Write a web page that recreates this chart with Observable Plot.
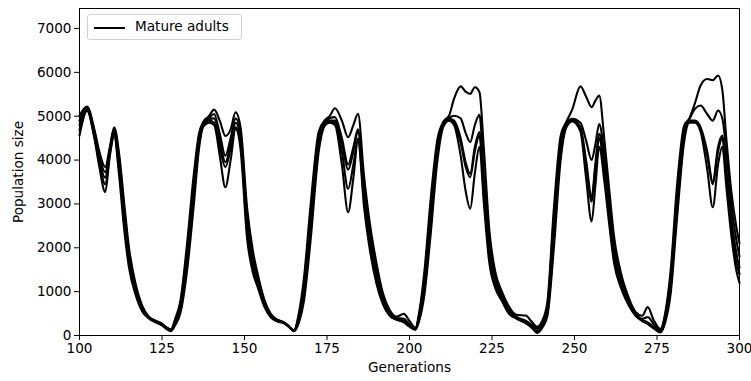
<!DOCTYPE html>
<html>
<head>
<meta charset="utf-8">
<script src="https://cdn.jsdelivr.net/npm/d3@7"></script>
<script src="https://cdn.jsdelivr.net/npm/@observablehq/plot@0.6"></script>
<style>
  html, body { margin: 0; padding: 0; background: #fff; }
  #wrap { position: relative; width: 751px; height: 381px; font-family: "DejaVu Sans", sans-serif; }
  #legend { position: absolute; left: 87px; top: 14px; width: 155px; height: 26px; box-sizing: border-box;
            border: 1px solid #d0d0d0; border-radius: 3px; background: rgba(255,255,255,0.85);
            font-size: 13.6px; color: #000; }
  #legend .swatch { position: absolute; left: 6px; top: 12px; width: 31px; height: 0; border-top: 2px solid #000; }
  #legend .lbl { position: absolute; left: 47px; top: 3px; white-space: nowrap; }
</style>
</head>
<body>
<div id="wrap">
  <div id="chart"></div>
  <div id="legend"><div class="swatch"></div><div class="lbl">Mature adults</div></div>
</div>
<script>
const generations = [
  100, 102.3, 104.5, 106, 107.8, 109.2, 110.5, 112, 113.5, 115, 117, 119, 121, 123, 125, 126.5, 127.7,
  129, 130.6, 132.6, 134.6, 136.2, 137.5,
  139.2, 140.8, 142.5, 144.2, 145.8, 147.3,
  148.8, 150.8, 152.5, 154, 156, 158, 160, 162, 163.5, 165,
  166.5, 168, 170, 172.5, 174.5,
  175.8, 177.4, 179.5, 181.4, 183, 184.4,
  186.2, 188, 190, 192, 194, 196, 198.3, 200, 201.8,
  203, 204.5, 206.4, 208.4, 210.3,
  212, 213.5, 215.5, 217, 218.4, 219.8, 221.2,
  222.5, 224.2, 226, 228, 230, 232.5, 235.2, 237, 238.7,
  240.2, 241.8, 243.7, 245.8, 247.5,
  249.3, 251.8, 253.5, 255.2, 256.3, 257.5,
  259, 260.5, 262, 264, 266, 268.5, 270.5, 272.2, 274, 276,
  277.5, 279.1, 281.1, 283.2, 284.8,
  286.5, 288.2, 290.2, 291.9, 293.5, 294.8,
  296, 297.5, 299, 300
];

const series1 = [
  5016, 5220, 4700, 4200, 3840, 4300, 4750, 4150, 3050, 2000, 1180, 680, 430, 340, 270, 180, 140,
  380, 800, 2100, 3650, 4600, 4870,
  5000, 5150, 4900, 4550, 4700, 5090,
  4750, 2900, 1950, 1400, 820, 490, 360, 300, 210, 120,
  520, 1300, 2950, 4650, 4920,
  5000, 5180, 4900, 4520, 4800, 5054,
  3650, 2550, 1650, 950, 580, 430, 494, 330, 180,
  560, 1450, 3100, 4450, 4880,
  5016, 5400, 5680, 5560, 5510, 5660, 5550,
  4300, 2400, 1450, 1000, 680, 470, 456, 320, 200,
  330, 780, 2850, 4550, 4870,
  5150, 5680, 5450, 5205, 5350, 5470,
  4500, 3350, 2250, 1450, 950, 540, 450, 646, 350, 150,
  520, 1450, 3450, 4780, 4950,
  5300, 5700, 5850, 5820, 5930, 5600,
  4500, 3300, 2500, 2100
];

const series2 = [
  4900, 5200, 4650, 4100, 3720, 4250, 4700, 4020, 2900, 1900, 1110, 640, 420, 330, 260, 170, 130,
  340, 720, 1950, 3480, 4520, 4840,
  4950, 5050, 4600, 4100, 4500, 4950,
  4620, 2720, 1820, 1320, 780, 470, 350, 295, 205, 115,
  460, 1160, 2750, 4550, 4890,
  4950, 4980, 4500, 3900, 4300, 4700,
  3480, 2400, 1520, 880, 540, 400, 380, 260, 160,
  500, 1310, 2900, 4330, 4850,
  4960, 5010, 4950, 4620, 4410, 4800, 5030,
  3700, 2150, 1350, 940, 610, 420, 340, 250, 170,
  290, 690, 2620, 4420, 4840,
  4940, 4850, 4450, 4000, 4350, 4820,
  4150, 3100, 2050, 1330, 880, 510, 380, 420, 260, 120,
  460, 1300, 3250, 4700, 4930,
  5170, 5244, 5050, 4900, 5130, 4950,
  4200, 3000, 2200, 1800
];

const series3 = [
  4800, 5180, 4600, 4000, 3600, 4200, 4650, 3900, 2750, 1780, 1050, 610, 410, 320, 250, 160, 120,
  300, 646, 1785, 3306, 4446, 4820,
  4940, 4950, 4450, 3950, 4350, 4850,
  4500, 2550, 1700, 1250, 740, 450, 340, 290, 200, 110,
  400, 1026, 2546, 4446, 4860,
  4900, 4900, 4400, 3780, 4200, 4650,
  3306, 2250, 1400, 820, 510, 380, 340, 240, 150,
  450, 1178, 2698, 4218, 4826,
  4940, 4900, 4500, 3950, 3690, 4300, 4640,
  3458, 1938, 1250, 880, 570, 400, 300, 230, 150,
  250, 600, 2400, 4300, 4800,
  4920, 4750, 4000, 3150, 3900, 4600,
  3950, 2900, 1900, 1250, 830, 480, 350, 300, 200, 110,
  400, 1178, 3078, 4600, 4900,
  4900, 4750, 4200, 3500, 4300, 4560,
  3800, 2700, 1900, 1550
];

const series4 = [
  4680, 5150, 4550, 3950, 3450, 4150, 4600, 3780, 2600, 1660, 990, 580, 400, 310, 240, 150, 110,
  270, 580, 1620, 3130, 4350, 4790,
  4900, 4850, 4300, 3840, 4250, 4750,
  4380, 2380, 1580, 1180, 700, 430, 330, 285, 195, 105,
  350, 900, 2350, 4330, 4830,
  4880, 4850, 4200, 3345, 3900, 4490,
  3130, 2100, 1290, 760, 480, 370, 320, 220, 140,
  400, 1050, 2500, 4100, 4800,
  4920, 4850, 4400, 3850, 3610, 4200, 4560,
  3250, 1780, 1160, 830, 540, 390, 290, 200, 100,
  210, 520, 2180, 4150, 4770,
  4900, 4700, 3900, 3050, 3800, 4500,
  3750, 2700, 1750, 1170, 790, 470, 340, 280, 180, 90,
  350, 1050, 2900, 4500, 4880,
  4880, 4700, 4100, 3450, 4200, 4500,
  3600, 2500, 1700, 1400
];

const series5 = [
  4560, 5120, 4500, 3850, 3270, 4100, 4550, 3650, 2450, 1550, 930, 550, 390, 300, 230, 140, 100,
  240, 520, 1480, 2950, 4250, 4760,
  4850, 4800, 4100, 3380, 4000, 4710,
  4250, 2200, 1450, 1100, 660, 410, 320, 280, 190, 100,
  300, 780, 2150, 4200, 4800,
  4850, 4800, 3900, 2810, 3600, 4450,
  2950, 1950, 1180, 700, 450, 360, 300, 200, 130,
  350, 920, 2300, 3950, 4770,
  4900, 4800, 4100, 3300, 2890, 3700, 4300,
  3050, 1650, 1080, 790, 510, 380, 280, 180, 60,
  170, 450, 1950, 4000, 4740,
  4880, 4650, 3600, 2600, 3400, 4300,
  3550, 2550, 1650, 1100, 750, 450, 330, 260, 160, 70,
  300, 930, 2700, 4400, 4850,
  4850, 4650, 3800, 2926, 3900, 4300,
  3400, 2300, 1500, 1200
];

const seriesNames = ["run 1", "run 2", "run 3", "run 4", "run 5"];
const seriesValues = [series1, series2, series3, series4, series5];
const yTicks = [0, 1000, 2000, 3000, 4000, 5000, 6000, 7000];
const xTicks = [100, 125, 150, 175, 200, 225, 250, 275, 300];

const rows = [];
seriesValues.forEach((vals, i) => {
  vals.forEach((v, j) => rows.push({run: seriesNames[i], gen: generations[j], pop: v}));
});

const chart = Plot.plot({
  width: 751,
  height: 381,
  marginLeft: 79,
  marginRight: 12,
  marginTop: 8,
  marginBottom: 46,
  style: {fontFamily: "DejaVu Sans, sans-serif", fontSize: "13.6px", color: "#000", background: "#fff"},
  x: {domain: [100, 300]},
  y: {domain: [0, 7456]},
  marks: [
    Plot.axisX({ticks: xTicks, tickFormat: "d", tickSize: 5, tickPadding: 3, label: "Generations", labelAnchor: "center", labelArrow: "none", labelOffset: 36, fontSize: 13.6}),
    Plot.axisY({ticks: yTicks, tickFormat: "d", tickSize: 5, tickPadding: 3, label: "Population size", labelAnchor: "center", labelArrow: "none", labelOffset: 66, fontSize: 13.6}),
    Plot.line(rows, {x: "gen", y: "pop", z: "run", stroke: "#000", strokeWidth: 2.1, curve: "monotone-x"}),
    Plot.frame({stroke: "#000", strokeWidth: 1})
  ]
});
document.getElementById("chart").appendChild(chart);
</script>
</body>
</html>
